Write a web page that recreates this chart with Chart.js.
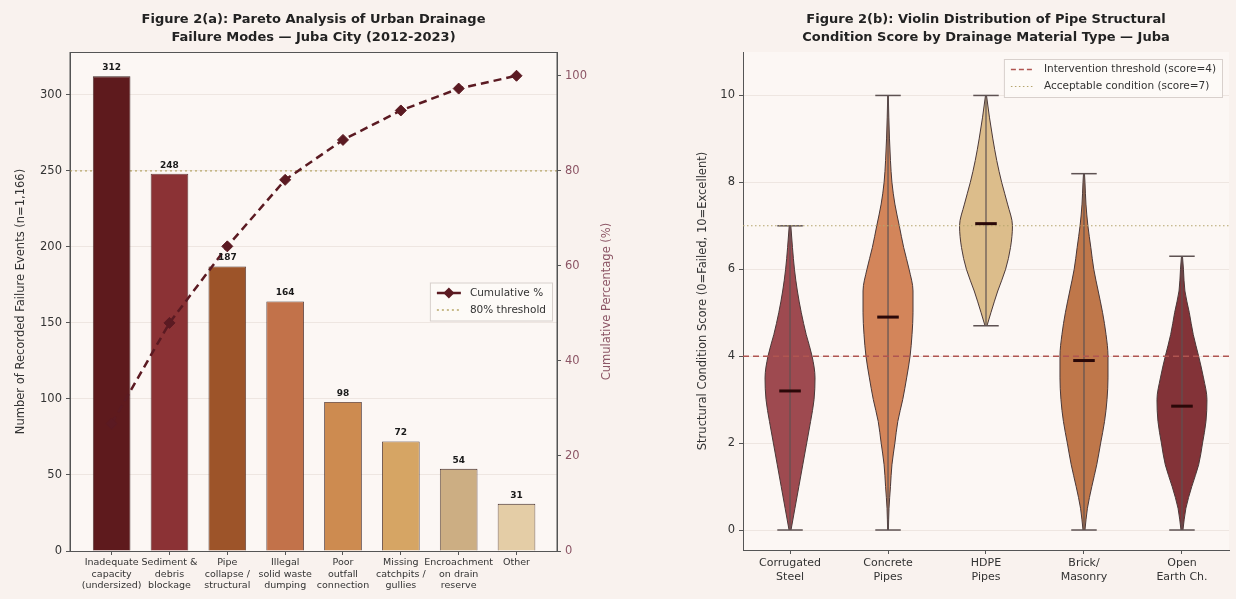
<!DOCTYPE html>
<html lang="en">
<head>
<meta charset="UTF-8">
<title>Figure 2 - Juba urban drainage</title>
<script src="https://cdn.jsdelivr.net/npm/chart.js"></script>
<style>
  body { margin: 0; background: #f9f2ee; font-family: "DejaVu Sans", sans-serif; }
  .wrap { position: relative; width: 1236px; height: 599px; }
  canvas { position: absolute; top: 0; }
  #pareto { left: 0; }
  #violin { left: 618px; }
</style>
</head>
<body>
<div class="wrap">
  <canvas id="pareto" width="618" height="599"></canvas>
  <canvas id="violin" width="618" height="599"></canvas>
</div>
<script>
// ---- panel (a): Pareto of failure modes ----
const failureLabels = [
  ["Inadequate", "capacity", "(undersized)"],
  ["Sediment &", "debris", "blockage"],
  ["Pipe", "collapse /", "structural"],
  ["Illegal", "solid waste", "dumping"],
  ["Poor", "outfall", "connection"],
  ["Missing", "catchpits /", "gullies"],
  ["Encroachment", "on drain", "reserve"],
  ["Other"]
];
const failureCounts = [312, 248, 187, 164, 98, 72, 54, 31];
const cumulativePct = [26.8, 48.0, 64.1, 78.1, 86.5, 92.7, 97.3, 100.0];
const countTicks = [0, 50, 100, 150, 200, 250, 300];
const pctTicks = [0, 20, 40, 60, 80, 100];
const thresholdPct = 80;
const barColors = ["#5e1a1d", "#8b3235", "#9d5429", "#c2724a", "#cd8b50", "#d6a564", "#ccae83", "#e4cda6"];

// ---- panel (b): violin of condition scores ----
const materialLabels = [["Corrugated", "Steel"], ["Concrete", "Pipes"], ["HDPE", "Pipes"], ["Brick/", "Masonry"], ["Open", "Earth Ch."]];
const corrugatedScore = [0, 0.5, 1, 1.5, 2, 2.5, 3, 3.5, 4, 4.5, 5, 5.5, 6, 6.5, 7];
const corrugatedWidth = [0.01, 0.05, 0.09, 0.13, 0.17, 0.21, 0.245, 0.255, 0.225, 0.165, 0.115, 0.075, 0.045, 0.025, 0.008];
const concreteScore = [0, 0.5, 1, 1.5, 2, 2.5, 3, 3.5, 4, 4.5, 5, 5.5, 6, 6.5, 7, 7.5, 8, 8.5, 9, 9.5, 10];
const concreteWidth = [0.004, 0.01, 0.025, 0.04, 0.07, 0.1, 0.15, 0.19, 0.225, 0.245, 0.255, 0.255, 0.215, 0.16, 0.115, 0.07, 0.04, 0.025, 0.015, 0.008, 0.003];
const hdpeScore = [4.7, 5, 5.5, 6, 6.5, 7, 7.5, 8, 8.5, 9, 9.5, 10];
const hdpeWidth = [0.01, 0.05, 0.12, 0.2, 0.25, 0.27, 0.22, 0.16, 0.11, 0.07, 0.035, 0.005];
const brickScore = [0, 0.5, 1, 1.5, 2, 2.5, 3, 3.5, 4, 4.5, 5, 5.5, 6, 6.5, 7, 7.5, 8, 8.2];
const brickWidth = [0.01, 0.035, 0.08, 0.13, 0.17, 0.21, 0.235, 0.245, 0.245, 0.225, 0.19, 0.145, 0.1, 0.07, 0.04, 0.02, 0.01, 0.005];
const earthScore = [0, 0.5, 1, 1.5, 2, 2.5, 3, 3.5, 4, 4.5, 5, 5.5, 6, 6.3];
const earthWidth = [0.01, 0.04, 0.1, 0.17, 0.21, 0.245, 0.255, 0.22, 0.17, 0.115, 0.075, 0.03, 0.015, 0.005];
const scoreMedian = [3.2, 4.9, 7.05, 3.9, 2.85];
const scoreTicks = [0, 2, 4, 6, 8, 10];
const interventionScore = 4;
const acceptableScore = 7;
const violinColors = ["#9e4a50", "#d3855a", "#dcbd8b", "#bf774a", "#833338"];

const violinScores = [corrugatedScore, concreteScore, hdpeScore, brickScore, earthScore];
const violinWidths = [corrugatedWidth, concreteWidth, hdpeWidth, brickWidth, earthWidth];

Chart.defaults.font.family = '"DejaVu Sans", sans-serif';
Chart.defaults.color = "#333";
Chart.defaults.animation = false;

const FONT = '"DejaVu Sans", sans-serif';

// plot background + optional full frame
const paintArea = {
  id: "paintArea",
  beforeDraw(chart, args, opts) {
    const { ctx, chartArea: a } = chart;
    ctx.save();
    ctx.fillStyle = opts.color;
    ctx.fillRect(a.left, a.top, a.width, a.height);
    ctx.restore();
  },
  afterDraw(chart, args, opts) {
    if (!opts.frame) return;
    const { ctx, chartArea: a } = chart;
    ctx.save();
    ctx.strokeStyle = "#555";
    ctx.lineWidth = 1;
    ctx.strokeRect(a.left, a.top + 0.5, a.width, a.height);
    ctx.restore();
  }
};

// figure title, and a right-hand axis title that reads bottom-to-top
const panelTitle = {
  id: "panelTitle",
  afterDraw(chart, args, opts) {
    const { ctx, chartArea: a } = chart;
    ctx.save();
    ctx.font = "bold 13px " + FONT;
    ctx.fillStyle = "#222";
    ctx.textAlign = "center";
    ctx.textBaseline = "middle";
    opts.lines.forEach((t, i) => ctx.fillText(t, (a.left + a.right) / 2, 20 + i * 18));
    if (opts.sideText) {
      ctx.font = "11.5px " + FONT;
      ctx.fillStyle = opts.sideColor;
      ctx.translate(chart.width - opts.sideInset, (a.top + a.bottom) / 2);
      ctx.rotate(-Math.PI / 2);
      ctx.fillText(opts.sideText, 0, 0);
    }
    ctx.restore();
  }
};

const boxLegend = {
  id: "boxLegend",
  afterDraw(chart, args, opts) {
    const { ctx, chartArea: a } = chart;
    ctx.save();
    ctx.font = "10.5px " + FONT;
    const items = opts.items;
    const textW = Math.max(...items.map(it => ctx.measureText(it.label).width));
    const rowH = 17;
    const w = 7 + 24 + 9 + textW + 6;
    const h = items.length * rowH + 4;
    const x = a.right - opts.right - w;
    const y = opts.top != null ? a.top + opts.top : (a.top + a.bottom) / 2 - h / 2;
    ctx.fillStyle = "rgba(253,249,247,0.9)";
    ctx.strokeStyle = "#d8d0cc";
    ctx.lineWidth = 1;
    ctx.fillRect(x, y, w, h);
    ctx.strokeRect(x + 0.5, y + 0.5, w, h);
    items.forEach((it, i) => {
      const cy = y + 2 + rowH * (i + 0.5);
      ctx.strokeStyle = it.color;
      ctx.lineWidth = it.width;
      ctx.setLineDash(it.dash);
      ctx.beginPath();
      ctx.moveTo(x + 7, cy);
      ctx.lineTo(x + 31, cy);
      ctx.stroke();
      ctx.setLineDash([]);
      if (it.marker) {
        const mx = x + 19;
        ctx.fillStyle = it.color;
        ctx.beginPath();
        ctx.moveTo(mx, cy - 5.5);
        ctx.lineTo(mx + 5.5, cy);
        ctx.lineTo(mx, cy + 5.5);
        ctx.lineTo(mx - 5.5, cy);
        ctx.closePath();
        ctx.fill();
      }
      ctx.fillStyle = "#333";
      ctx.textAlign = "left";
      ctx.textBaseline = "middle";
      ctx.fillText(it.label, x + 40, cy);
    });
    ctx.restore();
  }
};

const barValues = {
  id: "barValues",
  afterDatasetsDraw(chart) {
    const { ctx } = chart;
    const meta = chart.getDatasetMeta(0);
    ctx.save();
    ctx.font = "bold 9px " + FONT;
    ctx.fillStyle = "#1a1a1a";
    ctx.textAlign = "center";
    ctx.textBaseline = "bottom";
    meta.data.forEach((bar, i) => ctx.fillText(String(failureCounts[i]), bar.x, bar.y - 4));
    ctx.restore();
  }
};

// ---------- chart (a) ----------
const xMinA = -0.72, xMaxA = 7.7;

new Chart(document.getElementById("pareto"), {
  type: "bar",
  data: {
    datasets: [
      {
        type: "bar",
        data: failureCounts.map((v, i) => ({ x: i, y: v })),
        backgroundColor: barColors,
        borderColor: "#3b2424",
        borderWidth: 0.8,
        categoryPercentage: 1,
        barPercentage: 0.65,
        yAxisID: "y",
        order: 2
      },
      {
        type: "line",
        label: "Cumulative %",
        data: cumulativePct.map((v, i) => ({ x: i, y: v })),
        yAxisID: "y2",
        borderColor: "#5b1a22",
        backgroundColor: "#5b1a22",
        borderWidth: 2.5,
        borderDash: [8, 5],
        pointStyle: "rectRot",
        pointRadius: 5.5,
        pointBorderWidth: 1,
        tension: 0,
        order: 1
      },
      {
        type: "line",
        label: "80% threshold",
        data: [{ x: xMinA, y: thresholdPct }, { x: xMaxA, y: thresholdPct }],
        yAxisID: "y2",
        borderColor: "#b8a86a",
        borderWidth: 1.3,
        borderDash: [2, 3],
        pointRadius: 0,
        order: 3
      }
    ]
  },
  options: {
    responsive: false,
    layout: { padding: { top: 52, left: 0, right: 0, bottom: 0 } },
    plugins: {
      legend: { display: false },
      tooltip: { enabled: false },
      paintArea: { color: "#fcf7f4", frame: true },
      panelTitle: {
        lines: ["Figure 2(a): Pareto Analysis of Urban Drainage", "Failure Modes \u2014 Juba City (2012-2023)"],
        sideText: "Cumulative Percentage (%)",
        sideColor: "#8c5565",
        sideInset: 11
      },
      boxLegend: {
        right: 5,
        items: [
          { label: "Cumulative %", color: "#5b1a22", width: 2.5, dash: [], marker: true },
          { label: "80% threshold", color: "#b8a86a", width: 1.3, dash: [2, 3] }
        ]
      }
    },
    scales: {
      x: {
        type: "linear",
        min: xMinA,
        max: xMaxA,
        offset: false,
        afterBuildTicks: s => { s.ticks = failureLabels.map((_, i) => ({ value: i })); },
        afterFit: s => { s.height = 48; },
        grid: { drawOnChartArea: false, offset: false, tickLength: 4, tickColor: "#555" },
        border: { color: "#555" },
        ticks: { autoSkip: false, maxRotation: 0, padding: 2, font: { size: 9.5 }, color: "#333", callback: v => failureLabels[v] }
      },
      y: {
        position: "left",
        min: 0,
        max: 328,
        afterBuildTicks: s => { s.ticks = countTicks.map(v => ({ value: v })); },
        afterFit: s => { s.width = 70; },
        grid: { color: "rgba(170,140,130,0.16)", tickColor: "#555", tickLength: 4 },
        border: { color: "#555" },
        ticks: { padding: 4, font: { size: 11.5 }, color: "#333" },
        title: { display: true, text: "Number of Recorded Failure Events (n=1,166)", font: { size: 11.5 }, color: "#333", padding: { top: 14, bottom: 0 } }
      },
      y2: {
        position: "right",
        min: 0,
        max: 105,
        afterBuildTicks: s => { s.ticks = pctTicks.map(v => ({ value: v })); },
        afterFit: s => { s.width = 61; },
        grid: { drawOnChartArea: false, tickColor: "#555", tickLength: 4 },
        border: { color: "#555" },
        ticks: { padding: 4, font: { size: 11.5 }, color: "#8c5565" }
      }
    }
  },
  plugins: [paintArea, panelTitle, boxLegend, barValues]
});

// ---------- chart (b) ----------
const xMinB = -0.48, xMaxB = 4.48;
const capHalf = 0.13, medianHalf = 0.11;
const violinSets = [];

violinScores.forEach((levels, i) => {
  const w = violinWidths[i];
  const lo = levels[0], hi = levels[levels.length - 1];
  violinSets.push({
    data: levels.map((s, k) => ({ x: i - w[k], y: s })),
    borderColor: "#4a3838", borderWidth: 1, pointRadius: 0, fill: false,
    cubicInterpolationMode: "monotone", order: 3
  });
  violinSets.push({
    data: levels.map((s, k) => ({ x: i + w[k], y: s })),
    borderColor: "#4a3838", borderWidth: 1, pointRadius: 0, fill: "-1",
    backgroundColor: violinColors[i], cubicInterpolationMode: "monotone", order: 3
  });
  // min-max stem and caps
  violinSets.push({ data: [{ x: i, y: lo }, { x: i, y: hi }], borderColor: "#5e5252", borderWidth: 1.2, pointRadius: 0, order: 2 });
  violinSets.push({ data: [{ x: i - capHalf, y: lo }, { x: i + capHalf, y: lo }], borderColor: "#5e5252", borderWidth: 1.5, pointRadius: 0, order: 2 });
  violinSets.push({ data: [{ x: i - capHalf, y: hi }, { x: i + capHalf, y: hi }], borderColor: "#5e5252", borderWidth: 1.5, pointRadius: 0, order: 2 });
  violinSets.push({ data: [{ x: i - medianHalf, y: scoreMedian[i] }, { x: i + medianHalf, y: scoreMedian[i] }], borderColor: "#2a0808", borderWidth: 3, pointRadius: 0, order: 0 });
});

violinSets.push({ data: [{ x: xMinB, y: interventionScore }, { x: xMaxB, y: interventionScore }], borderColor: "#b05550", borderWidth: 1.5, borderDash: [6, 4], pointRadius: 0, order: 1 });
violinSets.push({ data: [{ x: xMinB, y: acceptableScore }, { x: xMaxB, y: acceptableScore }], borderColor: "#b5a66e", borderWidth: 1.1, borderDash: [1.5, 2.5], pointRadius: 0, order: 1 });

new Chart(document.getElementById("violin"), {
  type: "line",
  data: { datasets: violinSets },
  options: {
    responsive: false,
    indexAxis: "y",
    layout: { padding: { top: 52, left: 0, right: 7, bottom: 0 } },
    plugins: {
      legend: { display: false },
      tooltip: { enabled: false },
      filler: { drawTime: "beforeDatasetsDraw" },
      paintArea: { color: "#fcf7f4", frame: false },
      panelTitle: { lines: ["Figure 2(b): Violin Distribution of Pipe Structural", "Condition Score by Drainage Material Type \u2014 Juba"] },
      boxLegend: {
        right: 7,
        top: 7,
        items: [
          { label: "Intervention threshold (score=4)", color: "#b05550", width: 1.5, dash: [5, 3] },
          { label: "Acceptable condition (score=7)", color: "#b5a66e", width: 1.1, dash: [1.5, 2.5] }
        ]
      }
    },
    scales: {
      x: {
        type: "linear",
        position: "bottom",
        min: xMinB,
        max: xMaxB,
        afterBuildTicks: s => { s.ticks = materialLabels.map((_, i) => ({ value: i })); },
        afterFit: s => { s.height = 49; },
        grid: { drawOnChartArea: false, tickLength: 4, tickColor: "#555" },
        border: { color: "#555" },
        ticks: { autoSkip: false, maxRotation: 0, padding: 3, font: { size: 11 }, color: "#333", callback: v => materialLabels[v] }
      },
      y: {
        type: "linear",
        position: "left",
        min: -0.46,
        max: 11,
        afterBuildTicks: s => { s.ticks = scoreTicks.map(v => ({ value: v })); },
        afterFit: s => { s.width = 125; },
        grid: { color: "rgba(170,140,130,0.16)", tickColor: "#555", tickLength: 4 },
        border: { color: "#555" },
        ticks: { padding: 4, font: { size: 11.5 }, color: "#333" },
        title: { display: true, text: "Structural Condition Score (0=Failed, 10=Excellent)", font: { size: 11.5 }, color: "#333", padding: { top: 78, bottom: 0 } }
      }
    }
  },
  plugins: [paintArea, panelTitle, boxLegend]
});
</script>
</body>
</html>
